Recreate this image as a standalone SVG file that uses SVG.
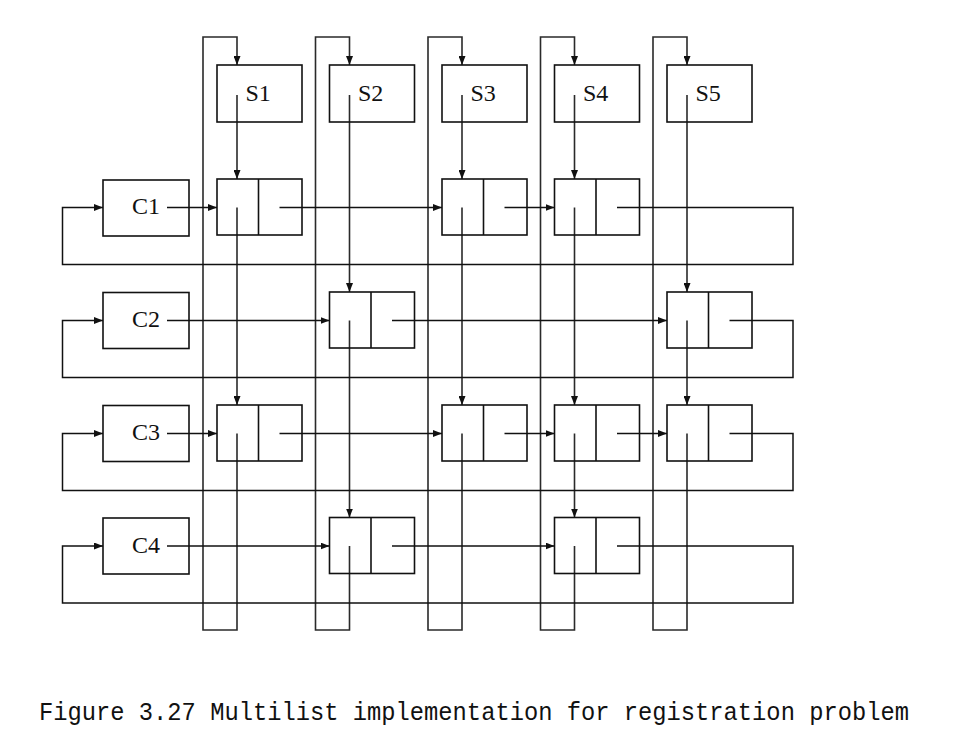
<svg xmlns="http://www.w3.org/2000/svg" width="957" height="756" viewBox="0 0 957 756">
<style>
.box{fill:none;stroke:#111;stroke-width:1.6}
.ln{fill:none;stroke:#111;stroke-width:1.5}
.cl{fill:none;stroke:#2a2a2a;stroke-width:1.6}
.lbl{font-family:"Liberation Serif","Times New Roman",serif;font-size:24px;fill:#111}
.cap{font-family:"Liberation Mono","Courier New",monospace;font-size:25px;fill:#111}
</style>
<defs>
<marker id="ah" markerUnits="userSpaceOnUse" markerWidth="9" markerHeight="7" refX="9" refY="3.5" orient="auto">
<path d="M0,0 L9,3.5 L0,7 z" fill="#111"/>
</marker>
</defs>
<rect width="957" height="756" fill="#fff"/>

<g id="connectors">
<g class="cl">
<path d="M237,95 V179" marker-end="url(#ah)"/>
<path d="M237,207.5 V405" marker-end="url(#ah)"/>
<path d="M237,433.5 V630 H203 V37 H237 V65" marker-end="url(#ah)"/>
<path d="M349.5,95 V292" marker-end="url(#ah)"/>
<path d="M349.5,320.5 V517.5" marker-end="url(#ah)"/>
<path d="M349.5,546 V630 H315.5 V37 H349.5 V65" marker-end="url(#ah)"/>
<path d="M462,95 V179" marker-end="url(#ah)"/>
<path d="M462,207.5 V405" marker-end="url(#ah)"/>
<path d="M462,433.5 V630 H428 V37 H462 V65" marker-end="url(#ah)"/>
<path d="M574.5,95 V179" marker-end="url(#ah)"/>
<path d="M574.5,207.5 V405" marker-end="url(#ah)"/>
<path d="M574.5,433.5 V517.5" marker-end="url(#ah)"/>
<path d="M574.5,546 V630 H540.5 V37 H574.5 V65" marker-end="url(#ah)"/>
<path d="M687,95 V292" marker-end="url(#ah)"/>
<path d="M687,320.5 V405" marker-end="url(#ah)"/>
<path d="M687,433.5 V630 H653 V37 H687 V65" marker-end="url(#ah)"/>
</g>
<g class="ln">
<path d="M167,207.5 H217" marker-end="url(#ah)"/>
<path d="M279.5,207.5 H442" marker-end="url(#ah)"/>
<path d="M504.5,207.5 H554.5" marker-end="url(#ah)"/>
<path d="M617,207.5 H793 V264.5 H62.5 V207.5 H103" marker-end="url(#ah)"/>
<path d="M167,320.5 H329.5" marker-end="url(#ah)"/>
<path d="M392,320.5 H667" marker-end="url(#ah)"/>
<path d="M729.5,320.5 H793 V377.5 H62.5 V320.5 H103" marker-end="url(#ah)"/>
<path d="M167,433.5 H217" marker-end="url(#ah)"/>
<path d="M279.5,433.5 H442" marker-end="url(#ah)"/>
<path d="M504.5,433.5 H554.5" marker-end="url(#ah)"/>
<path d="M617,433.5 H667" marker-end="url(#ah)"/>
<path d="M729.5,433.5 H793 V490.5 H62.5 V433.5 H103" marker-end="url(#ah)"/>
<path d="M167,546 H329.5" marker-end="url(#ah)"/>
<path d="M392,546 H554.5" marker-end="url(#ah)"/>
<path d="M617,546 H793 V603 H62.5 V546 H103" marker-end="url(#ah)"/>
</g>
</g>

<g id="S1"><rect class="box" x="217" y="65" width="85" height="57"/><text class="lbl" x="245.5" y="101">S1</text></g>
<g id="S2"><rect class="box" x="329.5" y="65" width="85" height="57"/><text class="lbl" x="358" y="101">S2</text></g>
<g id="S3"><rect class="box" x="442" y="65" width="85" height="57"/><text class="lbl" x="470.5" y="101">S3</text></g>
<g id="S4"><rect class="box" x="554.5" y="65" width="85" height="57"/><text class="lbl" x="583" y="101">S4</text></g>
<g id="S5"><rect class="box" x="667" y="65" width="85" height="57"/><text class="lbl" x="695.5" y="101">S5</text></g>

<g id="C1"><rect class="box" x="103" y="180" width="86" height="56"/><text class="lbl" x="146" y="214" text-anchor="middle">C1</text></g>
<g id="C2"><rect class="box" x="103" y="292.5" width="86" height="56"/><text class="lbl" x="146" y="327" text-anchor="middle">C2</text></g>
<g id="C3"><rect class="box" x="103" y="405.5" width="86" height="56"/><text class="lbl" x="146" y="440" text-anchor="middle">C3</text></g>
<g id="C4"><rect class="box" x="103" y="518" width="86" height="56"/><text class="lbl" x="146" y="552.5" text-anchor="middle">C4</text></g>

<g id="n-C1-S1"><rect class="box" x="217" y="179" width="85" height="56"/><line class="box" x1="258.5" y1="179" x2="258.5" y2="235"/></g>
<g id="n-C1-S3"><rect class="box" x="442" y="179" width="85" height="56"/><line class="box" x1="483.5" y1="179" x2="483.5" y2="235"/></g>
<g id="n-C1-S4"><rect class="box" x="554.5" y="179" width="85" height="56"/><line class="box" x1="596" y1="179" x2="596" y2="235"/></g>
<g id="n-C2-S2"><rect class="box" x="329.5" y="292" width="85" height="56"/><line class="box" x1="371" y1="292" x2="371" y2="348"/></g>
<g id="n-C2-S5"><rect class="box" x="667" y="292" width="85" height="56"/><line class="box" x1="708.5" y1="292" x2="708.5" y2="348"/></g>
<g id="n-C3-S1"><rect class="box" x="217" y="405" width="85" height="56"/><line class="box" x1="258.5" y1="405" x2="258.5" y2="461"/></g>
<g id="n-C3-S3"><rect class="box" x="442" y="405" width="85" height="56"/><line class="box" x1="483.5" y1="405" x2="483.5" y2="461"/></g>
<g id="n-C3-S4"><rect class="box" x="554.5" y="405" width="85" height="56"/><line class="box" x1="596" y1="405" x2="596" y2="461"/></g>
<g id="n-C3-S5"><rect class="box" x="667" y="405" width="85" height="56"/><line class="box" x1="708.5" y1="405" x2="708.5" y2="461"/></g>
<g id="n-C4-S2"><rect class="box" x="329.5" y="517.5" width="85" height="56"/><line class="box" x1="371" y1="517.5" x2="371" y2="573.5"/></g>
<g id="n-C4-S4"><rect class="box" x="554.5" y="517.5" width="85" height="56"/><line class="box" x1="596" y1="517.5" x2="596" y2="573.5"/></g>

<text class="cap" x="39" y="720" textLength="870" lengthAdjust="spacingAndGlyphs">Figure 3.27 Multilist implementation for registration problem</text>
</svg>
